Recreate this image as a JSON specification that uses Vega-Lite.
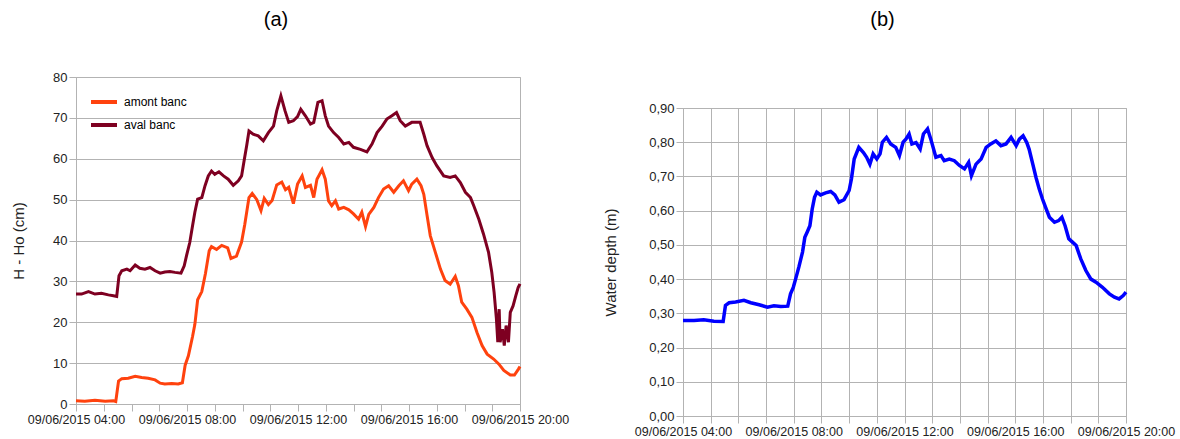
{
  "padding": {"left": 11, "top": 9, "right": 5, "bottom": 0},
  "spacing": 33,
  "config": {
    "font": "Liberation Sans",
    "view": {"stroke": "#b3b3b3"},
    "axis": {"domainColor": "#b3b3b3", "tickColor": "#b3b3b3", "gridColor": "#b3b3b3", "labelColor": "#222", "titleColor": "#222", "titleFontWeight": "normal", "titleFontSize": 15, "tickSize": 7},
    "title": {"fontSize": 20, "fontWeight": "normal"}
  },
  "hconcat": [
    {
      "title": {"text": "(a)", "offset": 41, "dx": -22},
      "width": 444,
      "height": 327,
      "data": {"values": [
      {"t":"2015-06-09T04:00","s":"amont banc","v":0.8},
      {"t":"2015-06-09T04:19","s":"amont banc","v":0.7},
      {"t":"2015-06-09T04:41","s":"amont banc","v":0.9},
      {"t":"2015-06-09T05:03","s":"amont banc","v":0.7},
      {"t":"2015-06-09T05:21","s":"amont banc","v":0.8},
      {"t":"2015-06-09T05:26","s":"amont banc","v":0.6},
      {"t":"2015-06-09T05:32","s":"amont banc","v":5.6},
      {"t":"2015-06-09T05:39","s":"amont banc","v":6.2},
      {"t":"2015-06-09T05:53","s":"amont banc","v":6.3},
      {"t":"2015-06-09T06:08","s":"amont banc","v":6.8},
      {"t":"2015-06-09T06:22","s":"amont banc","v":6.5},
      {"t":"2015-06-09T06:36","s":"amont banc","v":6.3},
      {"t":"2015-06-09T06:51","s":"amont banc","v":5.9},
      {"t":"2015-06-09T07:02","s":"amont banc","v":5.1},
      {"t":"2015-06-09T07:12","s":"amont banc","v":4.9},
      {"t":"2015-06-09T07:27","s":"amont banc","v":5.0},
      {"t":"2015-06-09T07:41","s":"amont banc","v":4.9},
      {"t":"2015-06-09T07:50","s":"amont banc","v":5.2},
      {"t":"2015-06-09T07:56","s":"amont banc","v":9.5},
      {"t":"2015-06-09T08:03","s":"amont banc","v":11.8},
      {"t":"2015-06-09T08:12","s":"amont banc","v":16.5},
      {"t":"2015-06-09T08:17","s":"amont banc","v":19.5},
      {"t":"2015-06-09T08:23","s":"amont banc","v":25.5},
      {"t":"2015-06-09T08:32","s":"amont banc","v":27.5},
      {"t":"2015-06-09T08:40","s":"amont banc","v":32},
      {"t":"2015-06-09T08:48","s":"amont banc","v":37.5},
      {"t":"2015-06-09T08:53","s":"amont banc","v":38.5},
      {"t":"2015-06-09T09:04","s":"amont banc","v":37.8},
      {"t":"2015-06-09T09:15","s":"amont banc","v":38.8},
      {"t":"2015-06-09T09:28","s":"amont banc","v":38.2},
      {"t":"2015-06-09T09:35","s":"amont banc","v":35.6},
      {"t":"2015-06-09T09:47","s":"amont banc","v":36.2},
      {"t":"2015-06-09T09:58","s":"amont banc","v":39.6},
      {"t":"2015-06-09T10:05","s":"amont banc","v":44},
      {"t":"2015-06-09T10:14","s":"amont banc","v":50.5},
      {"t":"2015-06-09T10:21","s":"amont banc","v":51.5},
      {"t":"2015-06-09T10:31","s":"amont banc","v":50.0},
      {"t":"2015-06-09T10:40","s":"amont banc","v":47.3},
      {"t":"2015-06-09T10:47","s":"amont banc","v":50.3},
      {"t":"2015-06-09T10:56","s":"amont banc","v":48.8},
      {"t":"2015-06-09T11:04","s":"amont banc","v":49.8},
      {"t":"2015-06-09T11:14","s":"amont banc","v":53.6},
      {"t":"2015-06-09T11:25","s":"amont banc","v":54.3},
      {"t":"2015-06-09T11:33","s":"amont banc","v":52.4},
      {"t":"2015-06-09T11:40","s":"amont banc","v":53.0},
      {"t":"2015-06-09T11:50","s":"amont banc","v":49.0},
      {"t":"2015-06-09T11:59","s":"amont banc","v":53.8},
      {"t":"2015-06-09T12:09","s":"amont banc","v":55.8},
      {"t":"2015-06-09T12:16","s":"amont banc","v":53},
      {"t":"2015-06-09T12:27","s":"amont banc","v":53.5},
      {"t":"2015-06-09T12:34","s":"amont banc","v":50.5},
      {"t":"2015-06-09T12:41","s":"amont banc","v":55},
      {"t":"2015-06-09T12:52","s":"amont banc","v":57.3},
      {"t":"2015-06-09T12:59","s":"amont banc","v":55},
      {"t":"2015-06-09T13:06","s":"amont banc","v":49.7},
      {"t":"2015-06-09T13:13","s":"amont banc","v":48.5},
      {"t":"2015-06-09T13:21","s":"amont banc","v":49.7},
      {"t":"2015-06-09T13:28","s":"amont banc","v":47.7},
      {"t":"2015-06-09T13:39","s":"amont banc","v":48.1},
      {"t":"2015-06-09T13:50","s":"amont banc","v":47.5},
      {"t":"2015-06-09T14:00","s":"amont banc","v":46.5},
      {"t":"2015-06-09T14:11","s":"amont banc","v":45.2},
      {"t":"2015-06-09T14:18","s":"amont banc","v":46.9},
      {"t":"2015-06-09T14:26","s":"amont banc","v":43.4},
      {"t":"2015-06-09T14:33","s":"amont banc","v":46.4},
      {"t":"2015-06-09T14:44","s":"amont banc","v":48.1},
      {"t":"2015-06-09T14:54","s":"amont banc","v":50.5},
      {"t":"2015-06-09T15:05","s":"amont banc","v":52.6},
      {"t":"2015-06-09T15:16","s":"amont banc","v":53.4},
      {"t":"2015-06-09T15:27","s":"amont banc","v":51.8},
      {"t":"2015-06-09T15:38","s":"amont banc","v":53.4},
      {"t":"2015-06-09T15:48","s":"amont banc","v":54.6},
      {"t":"2015-06-09T15:59","s":"amont banc","v":52.2},
      {"t":"2015-06-09T16:06","s":"amont banc","v":53.8},
      {"t":"2015-06-09T16:17","s":"amont banc","v":55},
      {"t":"2015-06-09T16:26","s":"amont banc","v":53.4},
      {"t":"2015-06-09T16:32","s":"amont banc","v":51.3},
      {"t":"2015-06-09T16:39","s":"amont banc","v":46.2},
      {"t":"2015-06-09T16:46","s":"amont banc","v":41.2},
      {"t":"2015-06-09T16:57","s":"amont banc","v":37.1},
      {"t":"2015-06-09T17:08","s":"amont banc","v":33},
      {"t":"2015-06-09T17:18","s":"amont banc","v":30.2},
      {"t":"2015-06-09T17:29","s":"amont banc","v":29.3},
      {"t":"2015-06-09T17:40","s":"amont banc","v":31.2},
      {"t":"2015-06-09T17:47","s":"amont banc","v":28.9},
      {"t":"2015-06-09T17:54","s":"amont banc","v":24.9},
      {"t":"2015-06-09T18:05","s":"amont banc","v":23.2},
      {"t":"2015-06-09T18:16","s":"amont banc","v":21.2},
      {"t":"2015-06-09T18:27","s":"amont banc","v":17.5},
      {"t":"2015-06-09T18:38","s":"amont banc","v":14.3},
      {"t":"2015-06-09T18:49","s":"amont banc","v":12.2},
      {"t":"2015-06-09T19:03","s":"amont banc","v":11},
      {"t":"2015-06-09T19:14","s":"amont banc","v":9.8},
      {"t":"2015-06-09T19:25","s":"amont banc","v":8.2},
      {"t":"2015-06-09T19:39","s":"amont banc","v":7.1},
      {"t":"2015-06-09T19:48","s":"amont banc","v":7.1},
      {"t":"2015-06-09T19:57","s":"amont banc","v":8.6},
      {"t":"2015-06-09T20:00","s":"amont banc","v":9.2},
      {"t":"2015-06-09T04:00","s":"aval banc","v":26.9},
      {"t":"2015-06-09T04:12","s":"aval banc","v":26.9},
      {"t":"2015-06-09T04:27","s":"aval banc","v":27.5},
      {"t":"2015-06-09T04:41","s":"aval banc","v":26.9},
      {"t":"2015-06-09T04:55","s":"aval banc","v":27.1},
      {"t":"2015-06-09T05:10","s":"aval banc","v":26.7},
      {"t":"2015-06-09T05:21","s":"aval banc","v":26.5},
      {"t":"2015-06-09T05:28","s":"aval banc","v":26.3},
      {"t":"2015-06-09T05:33","s":"aval banc","v":31.4},
      {"t":"2015-06-09T05:39","s":"aval banc","v":32.6},
      {"t":"2015-06-09T05:50","s":"aval banc","v":33},
      {"t":"2015-06-09T05:57","s":"aval banc","v":32.6},
      {"t":"2015-06-09T06:08","s":"aval banc","v":34},
      {"t":"2015-06-09T06:18","s":"aval banc","v":33.2},
      {"t":"2015-06-09T06:29","s":"aval banc","v":33.0},
      {"t":"2015-06-09T06:40","s":"aval banc","v":33.4},
      {"t":"2015-06-09T06:51","s":"aval banc","v":32.6},
      {"t":"2015-06-09T07:02","s":"aval banc","v":32},
      {"t":"2015-06-09T07:12","s":"aval banc","v":32.3},
      {"t":"2015-06-09T07:23","s":"aval banc","v":32.4},
      {"t":"2015-06-09T07:34","s":"aval banc","v":32.2},
      {"t":"2015-06-09T07:47","s":"aval banc","v":32},
      {"t":"2015-06-09T07:54","s":"aval banc","v":33.8},
      {"t":"2015-06-09T07:59","s":"aval banc","v":36.3},
      {"t":"2015-06-09T08:06","s":"aval banc","v":39.5},
      {"t":"2015-06-09T08:12","s":"aval banc","v":43.6},
      {"t":"2015-06-09T08:17","s":"aval banc","v":46.9},
      {"t":"2015-06-09T08:23","s":"aval banc","v":50.1},
      {"t":"2015-06-09T08:32","s":"aval banc","v":50.5},
      {"t":"2015-06-09T08:39","s":"aval banc","v":53.4},
      {"t":"2015-06-09T08:46","s":"aval banc","v":55.8},
      {"t":"2015-06-09T08:53","s":"aval banc","v":57},
      {"t":"2015-06-09T09:00","s":"aval banc","v":56.2},
      {"t":"2015-06-09T09:09","s":"aval banc","v":56.8},
      {"t":"2015-06-09T09:19","s":"aval banc","v":55.8},
      {"t":"2015-06-09T09:29","s":"aval banc","v":55},
      {"t":"2015-06-09T09:40","s":"aval banc","v":53.5},
      {"t":"2015-06-09T09:51","s":"aval banc","v":54.6},
      {"t":"2015-06-09T09:58","s":"aval banc","v":55.8},
      {"t":"2015-06-09T10:04","s":"aval banc","v":59.9},
      {"t":"2015-06-09T10:09","s":"aval banc","v":63.2},
      {"t":"2015-06-09T10:14","s":"aval banc","v":66.8},
      {"t":"2015-06-09T10:23","s":"aval banc","v":66},
      {"t":"2015-06-09T10:34","s":"aval banc","v":65.6},
      {"t":"2015-06-09T10:45","s":"aval banc","v":64.4},
      {"t":"2015-06-09T10:56","s":"aval banc","v":66.4},
      {"t":"2015-06-09T11:07","s":"aval banc","v":68},
      {"t":"2015-06-09T11:14","s":"aval banc","v":71.7},
      {"t":"2015-06-09T11:23","s":"aval banc","v":75.4},
      {"t":"2015-06-09T11:32","s":"aval banc","v":71.7},
      {"t":"2015-06-09T11:40","s":"aval banc","v":68.9},
      {"t":"2015-06-09T11:50","s":"aval banc","v":69.3},
      {"t":"2015-06-09T11:59","s":"aval banc","v":70.3},
      {"t":"2015-06-09T12:06","s":"aval banc","v":72.1},
      {"t":"2015-06-09T12:16","s":"aval banc","v":70.5},
      {"t":"2015-06-09T12:27","s":"aval banc","v":68.5},
      {"t":"2015-06-09T12:34","s":"aval banc","v":68.9},
      {"t":"2015-06-09T12:43","s":"aval banc","v":73.8},
      {"t":"2015-06-09T12:52","s":"aval banc","v":74.2},
      {"t":"2015-06-09T12:59","s":"aval banc","v":70.5},
      {"t":"2015-06-09T13:06","s":"aval banc","v":68},
      {"t":"2015-06-09T13:17","s":"aval banc","v":66.4},
      {"t":"2015-06-09T13:28","s":"aval banc","v":65.2},
      {"t":"2015-06-09T13:39","s":"aval banc","v":63.6},
      {"t":"2015-06-09T13:50","s":"aval banc","v":64},
      {"t":"2015-06-09T14:00","s":"aval banc","v":62.8},
      {"t":"2015-06-09T14:15","s":"aval banc","v":62.3},
      {"t":"2015-06-09T14:29","s":"aval banc","v":61.7},
      {"t":"2015-06-09T14:40","s":"aval banc","v":63.6},
      {"t":"2015-06-09T14:51","s":"aval banc","v":66.4},
      {"t":"2015-06-09T15:02","s":"aval banc","v":68},
      {"t":"2015-06-09T15:12","s":"aval banc","v":69.7},
      {"t":"2015-06-09T15:23","s":"aval banc","v":70.5},
      {"t":"2015-06-09T15:33","s":"aval banc","v":71.3},
      {"t":"2015-06-09T15:41","s":"aval banc","v":69.3},
      {"t":"2015-06-09T15:52","s":"aval banc","v":68},
      {"t":"2015-06-09T16:06","s":"aval banc","v":68.9},
      {"t":"2015-06-09T16:24","s":"aval banc","v":68.9},
      {"t":"2015-06-09T16:32","s":"aval banc","v":66},
      {"t":"2015-06-09T16:39","s":"aval banc","v":63.2},
      {"t":"2015-06-09T16:50","s":"aval banc","v":60.3},
      {"t":"2015-06-09T17:00","s":"aval banc","v":58.3},
      {"t":"2015-06-09T17:15","s":"aval banc","v":55.8},
      {"t":"2015-06-09T17:29","s":"aval banc","v":55.4},
      {"t":"2015-06-09T17:40","s":"aval banc","v":55.8},
      {"t":"2015-06-09T17:51","s":"aval banc","v":54.2},
      {"t":"2015-06-09T18:02","s":"aval banc","v":51.8},
      {"t":"2015-06-09T18:13","s":"aval banc","v":50.5},
      {"t":"2015-06-09T18:20","s":"aval banc","v":48.5},
      {"t":"2015-06-09T18:31","s":"aval banc","v":45.2},
      {"t":"2015-06-09T18:41","s":"aval banc","v":41.6},
      {"t":"2015-06-09T18:52","s":"aval banc","v":37.1},
      {"t":"2015-06-09T18:59","s":"aval banc","v":32.2},
      {"t":"2015-06-09T19:04","s":"aval banc","v":27.3},
      {"t":"2015-06-09T19:09","s":"aval banc","v":20.8},
      {"t":"2015-06-09T19:12","s":"aval banc","v":15.1},
      {"t":"2015-06-09T19:15","s":"aval banc","v":23.2},
      {"t":"2015-06-09T19:17","s":"aval banc","v":15.1},
      {"t":"2015-06-09T19:22","s":"aval banc","v":18.3},
      {"t":"2015-06-09T19:26","s":"aval banc","v":14.3},
      {"t":"2015-06-09T19:30","s":"aval banc","v":19.2},
      {"t":"2015-06-09T19:35","s":"aval banc","v":15.1},
      {"t":"2015-06-09T19:39","s":"aval banc","v":22.4},
      {"t":"2015-06-09T19:45","s":"aval banc","v":24},
      {"t":"2015-06-09T19:51","s":"aval banc","v":26.5},
      {"t":"2015-06-09T19:56","s":"aval banc","v":28.5},
      {"t":"2015-06-09T20:00","s":"aval banc","v":29.4}
      ]},
      "mark": {"type": "line", "strokeWidth": 3},
      "encoding": {
        "x": {
          "field": "t", "type": "temporal",
          "axis": {"title": null, "grid": false, "format": "%d/%m/%Y %H:%M", "tickCount": 16, "labelFlush": false, "labelOverlap": "parity", "labelFontSize": 12.5}
        },
        "y": {
          "field": "v", "type": "quantitative",
          "scale": {"domain": [0, 80]},
          "axis": {"title": "H - Ho (cm)", "values": [0, 10, 20, 30, 40, 50, 60, 70, 80], "labelFontSize": 13, "titlePadding": 26}
        },
        "color": {
          "field": "s", "type": "nominal",
          "scale": {"domain": ["amont banc", "aval banc"], "range": ["#ff420e", "#7e0021"]},
          "legend": {"title": null, "orient": "none", "legendX": 13, "legendY": 10, "symbolSize": 676, "symbolStrokeWidth": 4, "rowPadding": -3, "labelFontSize": 12, "labelOffset": 5}
        }
      }
    },
    {
      "spacing": 23,
      "vconcat": [
        {
          "title": {"text": "(b)", "offset": 47, "dx": -22},
          "width": 443,
          "height": 1,
          "view": {"stroke": null},
          "data": {"values": [{"v": 0}]},
          "mark": {"type": "rule", "opacity": 0},
          "encoding": {}
        },
        {
          "width": 443,
          "height": 308,
          "data": {"values": [
          {"t":"2015-06-09T04:00","v":0.279},
          {"t":"2015-06-09T04:24","v":0.279},
          {"t":"2015-06-09T04:45","v":0.281},
          {"t":"2015-06-09T05:07","v":0.277},
          {"t":"2015-06-09T05:27","v":0.276},
          {"t":"2015-06-09T05:32","v":0.323},
          {"t":"2015-06-09T05:40","v":0.331},
          {"t":"2015-06-09T05:54","v":0.333},
          {"t":"2015-06-09T06:12","v":0.338},
          {"t":"2015-06-09T06:27","v":0.331},
          {"t":"2015-06-09T06:45","v":0.325},
          {"t":"2015-06-09T07:03","v":0.318},
          {"t":"2015-06-09T07:17","v":0.322},
          {"t":"2015-06-09T07:32","v":0.32},
          {"t":"2015-06-09T07:47","v":0.321},
          {"t":"2015-06-09T07:53","v":0.357},
          {"t":"2015-06-09T07:59","v":0.376},
          {"t":"2015-06-09T08:04","v":0.40},
          {"t":"2015-06-09T08:11","v":0.435},
          {"t":"2015-06-09T08:19","v":0.479},
          {"t":"2015-06-09T08:24","v":0.522},
          {"t":"2015-06-09T08:29","v":0.537},
          {"t":"2015-06-09T08:35","v":0.556},
          {"t":"2015-06-09T08:40","v":0.605},
          {"t":"2015-06-09T08:45","v":0.639},
          {"t":"2015-06-09T08:50","v":0.654},
          {"t":"2015-06-09T08:58","v":0.646},
          {"t":"2015-06-09T09:09","v":0.652},
          {"t":"2015-06-09T09:20","v":0.656},
          {"t":"2015-06-09T09:29","v":0.646},
          {"t":"2015-06-09T09:38","v":0.625},
          {"t":"2015-06-09T09:49","v":0.632},
          {"t":"2015-06-09T10:00","v":0.659},
          {"t":"2015-06-09T10:05","v":0.693},
          {"t":"2015-06-09T10:11","v":0.751},
          {"t":"2015-06-09T10:21","v":0.785},
          {"t":"2015-06-09T10:31","v":0.77},
          {"t":"2015-06-09T10:38","v":0.756},
          {"t":"2015-06-09T10:45","v":0.736},
          {"t":"2015-06-09T10:52","v":0.766},
          {"t":"2015-06-09T11:00","v":0.751},
          {"t":"2015-06-09T11:07","v":0.766},
          {"t":"2015-06-09T11:12","v":0.80},
          {"t":"2015-06-09T11:21","v":0.814},
          {"t":"2015-06-09T11:30","v":0.795},
          {"t":"2015-06-09T11:41","v":0.785},
          {"t":"2015-06-09T11:49","v":0.761},
          {"t":"2015-06-09T11:57","v":0.80},
          {"t":"2015-06-09T12:03","v":0.809},
          {"t":"2015-06-09T12:10","v":0.824},
          {"t":"2015-06-09T12:16","v":0.795},
          {"t":"2015-06-09T12:25","v":0.799},
          {"t":"2015-06-09T12:34","v":0.78},
          {"t":"2015-06-09T12:41","v":0.824},
          {"t":"2015-06-09T12:50","v":0.839},
          {"t":"2015-06-09T12:57","v":0.809},
          {"t":"2015-06-09T13:08","v":0.756},
          {"t":"2015-06-09T13:19","v":0.761},
          {"t":"2015-06-09T13:26","v":0.746},
          {"t":"2015-06-09T13:37","v":0.751},
          {"t":"2015-06-09T13:48","v":0.746},
          {"t":"2015-06-09T13:59","v":0.732},
          {"t":"2015-06-09T14:10","v":0.722},
          {"t":"2015-06-09T14:19","v":0.741},
          {"t":"2015-06-09T14:25","v":0.702},
          {"t":"2015-06-09T14:35","v":0.736},
          {"t":"2015-06-09T14:46","v":0.751},
          {"t":"2015-06-09T14:57","v":0.785},
          {"t":"2015-06-09T15:07","v":0.795},
          {"t":"2015-06-09T15:18","v":0.804},
          {"t":"2015-06-09T15:29","v":0.79},
          {"t":"2015-06-09T15:40","v":0.795},
          {"t":"2015-06-09T15:51","v":0.814},
          {"t":"2015-06-09T16:02","v":0.79},
          {"t":"2015-06-09T16:09","v":0.809},
          {"t":"2015-06-09T16:17","v":0.819},
          {"t":"2015-06-09T16:25","v":0.799},
          {"t":"2015-06-09T16:30","v":0.78},
          {"t":"2015-06-09T16:38","v":0.736},
          {"t":"2015-06-09T16:45","v":0.697},
          {"t":"2015-06-09T16:52","v":0.663},
          {"t":"2015-06-09T16:59","v":0.634},
          {"t":"2015-06-09T17:07","v":0.605},
          {"t":"2015-06-09T17:14","v":0.581},
          {"t":"2015-06-09T17:25","v":0.566},
          {"t":"2015-06-09T17:34","v":0.571},
          {"t":"2015-06-09T17:41","v":0.581},
          {"t":"2015-06-09T17:48","v":0.556},
          {"t":"2015-06-09T17:56","v":0.518},
          {"t":"2015-06-09T18:04","v":0.508},
          {"t":"2015-06-09T18:12","v":0.498},
          {"t":"2015-06-09T18:22","v":0.459},
          {"t":"2015-06-09T18:33","v":0.425},
          {"t":"2015-06-09T18:44","v":0.40},
          {"t":"2015-06-09T18:55","v":0.391},
          {"t":"2015-06-09T19:09","v":0.376},
          {"t":"2015-06-09T19:24","v":0.357},
          {"t":"2015-06-09T19:35","v":0.347},
          {"t":"2015-06-09T19:45","v":0.342},
          {"t":"2015-06-09T19:54","v":0.352},
          {"t":"2015-06-09T20:00","v":0.362}
          ]},
          "mark": {"type": "line", "strokeWidth": 3.5, "color": "#0000ff"},
          "encoding": {
            "x": {
              "field": "t", "type": "temporal",
              "axis": {"title": null, "grid": true, "format": "%d/%m/%Y %H:%M", "tickCount": 16, "labelFlush": false, "labelOverlap": "parity", "labelFontSize": 12.5}
            },
            "y": {
              "field": "v", "type": "quantitative",
              "scale": {"domain": [0, 0.9]},
              "axis": {"title": "Water depth (m)", "values": [0, 0.1, 0.2, 0.3, 0.4, 0.5, 0.6, 0.7, 0.8, 0.9], "labelExpr": "replace(format(datum.value, '.2f'), '.', ',')", "labelFontSize": 13, "titlePadding": 30}
            }
          }
        }
      ]
    }
  ]
}
